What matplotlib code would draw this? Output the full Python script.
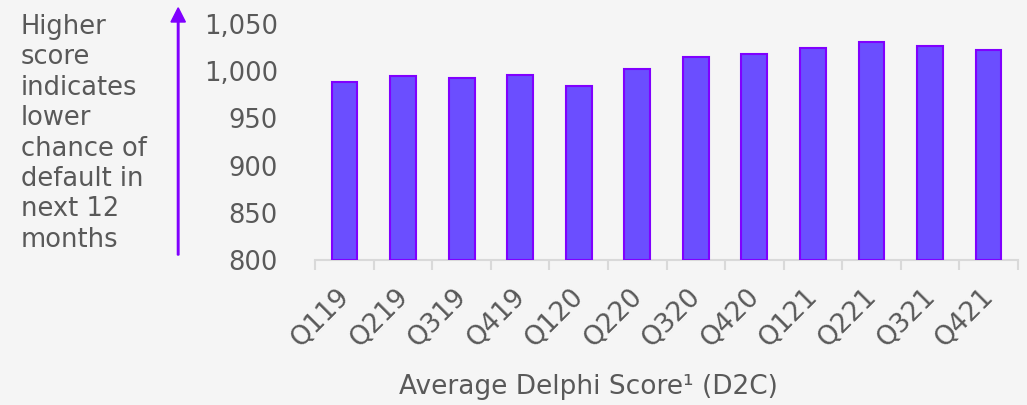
import matplotlib.pyplot as plt
import matplotlib.transforms as mtransforms
from matplotlib.patches import FancyArrow

quarters = ['Q119', 'Q219', 'Q319', 'Q419', 'Q120', 'Q220',
            'Q320', 'Q420', 'Q121', 'Q221', 'Q321', 'Q421']
scores = [988, 995, 993, 996, 984, 1002, 1015, 1018, 1025, 1031, 1027, 1022]
y_ticks = [800, 850, 900, 950, 1000, 1050]

bg = '#f5f5f5'
txt = '#595959'
bar_face = '#6b4eff'
bar_edge = '#8000ff'

fig = plt.figure(figsize=(10.27, 4.05), dpi=100, facecolor=bg)
ax = fig.add_axes([0.307, 0.358, 0.684, 0.583], facecolor=bg)

xs = list(range(len(quarters)))
ax.bar(xs, [s - 800 for s in scores], bottom=800, width=0.44,
       color=bar_face, edgecolor=bar_edge, linewidth=1.5, zorder=3)

ax.set_xlim(-0.5, len(quarters) - 0.5)
ax.set_ylim(800, 1050)
ax.set_yticks(y_ticks)
ax.set_yticklabels([f'{v:,}' for v in y_ticks])
ax.tick_params(axis='y', length=0, pad=27, labelsize=18.5, labelcolor=txt)

# tick marks between categories, labels at centres
ax.set_xticks([x - 0.5 for x in range(len(quarters) + 1)])
ax.set_xticklabels([])
ax.tick_params(axis='x', which='major', length=7, width=1.5, color='#d9d9d9')
ax.set_xticks(xs, minor=True)
ax.set_xticklabels(quarters, minor=True, rotation=45, ha='right',
                   rotation_mode='anchor', fontsize=19, color=txt)
ax.tick_params(axis='x', which='minor', length=0, pad=17)
shift = mtransforms.ScaledTranslation(-8 / 100, 0, fig.dpi_scale_trans)
for lab in ax.get_xticklabels(minor=True):
    lab.set_transform(lab.get_transform() + shift)

for side in ['left', 'right', 'top']:
    ax.spines[side].set_visible(False)
ax.spines['bottom'].set_color('#d9d9d9')
ax.spines['bottom'].set_linewidth(1.5)

fig.text(0.573, 1 - 387 / 405, 'Average Delphi Score¹ (D2C)', ha='center', va='center',
         fontsize=19, color=txt)

fig.text(0.02, 1 - 14 / 405, 'Higher\nscore\nindicates\nlower\nchance of\ndefault in\nnext 12\nmonths',
         ha='left', va='top', fontsize=18.5, color=txt, linespacing=1.22)

fig.patches.append(FancyArrow(
    0.1735, 1 - 255 / 405, 0, (255 - 22) / 405, width=0.0015,
    head_width=0.014, head_length=0.035, length_includes_head=False,
    color=bar_edge, transform=fig.transFigure, figure=fig))

plt.savefig('out.png', dpi=100, facecolor=bg)
